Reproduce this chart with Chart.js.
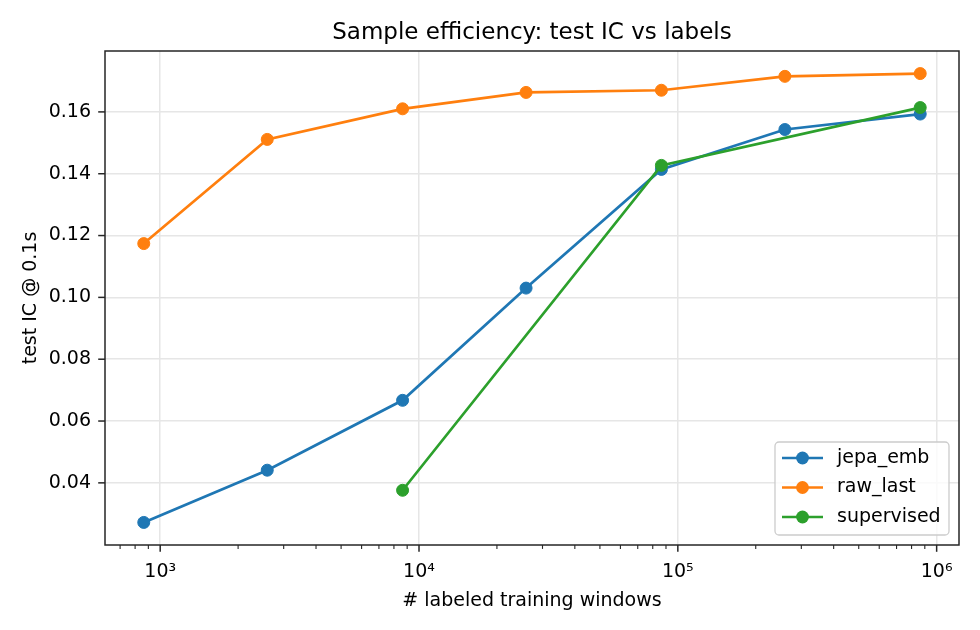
<!DOCTYPE html>
<html>
<head>
<meta charset="utf-8">
<script src="https://cdn.jsdelivr.net/npm/chart.js@4.4.1/dist/chart.umd.min.js"></script>
<style>
  html, body { margin: 0; padding: 0; background: #fff; }
  #wrap { width: 980px; height: 630px; }
</style>
</head>
<body>
<div id="wrap"><canvas id="chart" width="980" height="630"></canvas></div>
<script>
// data
const windows = [864, 2592, 8640, 25920, 86400, 259200, 864000];
const jepaEmb = [0.0272, 0.0441, 0.0667, 0.1030, 0.1414, 0.1543, 0.1593];
const rawLast = [0.1174, 0.1511, 0.1610, 0.1663, 0.1670, 0.1715, 0.1724];
const supervised = [null, null, 0.0376, null, 0.1427, null, 0.1614];

const seriesNames = ['jepa_emb', 'raw_last', 'supervised'];
const seriesColors = ['#1f77b4', '#ff7f0e', '#2ca02c'];

const titleText = 'Sample efficiency: test IC vs labels';
const xMajor = [1e3, 1e4, 1e5, 1e6];
const xMajorLabels = ['10³', '10⁴', '10⁵', '10⁶'];
const yTicks = [0.04, 0.06, 0.08, 0.10, 0.12, 0.14, 0.16];

const X_MIN = 612, X_MAX = 1.22e6;
const Y_MIN = 0.0199, Y_MAX = 0.1797;

const FONT = '"DejaVu Sans", sans-serif';

// minor log ticks 2..9 x 10^n inside the range
const xMinor = [];
for (let e = 2; e <= 6; e++) {
  for (let m = 2; m <= 9; m++) {
    const v = m * Math.pow(10, e);
    if (v >= X_MIN && v <= X_MAX) xMinor.push(v);
  }
}
const isMajor = v => xMajor.indexOf(v) !== -1;

const toPoints = vals => windows.map((x, i) => ({x: x, y: vals[i]})).filter(p => p.y !== null);

const mkSet = (idx, vals, order) => ({
  label: seriesNames[idx],
  data: toPoints(vals),
  borderColor: seriesColors[idx],
  backgroundColor: seriesColors[idx],
  borderWidth: 2.7,
  pointRadius: 6,
  pointBorderWidth: 1,
  pointBorderColor: seriesColors[idx],
  pointBackgroundColor: seriesColors[idx],
  tension: 0,
  order: order
});

const frame = {
  id: 'frame',
  afterDraw(chart) {
    const {ctx, chartArea: a, scales: {x, y}} = chart;
    ctx.save();
    // title centred over the axes
    ctx.font = '23px ' + FONT;
    ctx.fillStyle = '#000';
    ctx.textAlign = 'center';
    ctx.textBaseline = 'alphabetic';
    ctx.fillText(titleText, (a.left + a.right) / 2, 38.5);

    ctx.strokeStyle = '#262626';
    ctx.lineWidth = 1.5;
    ctx.strokeRect(a.left, a.top, a.right - a.left, a.bottom - a.top);
    x.ticks.forEach(t => {
      const px = x.getPixelForValue(t.value);
      const major = isMajor(t.value);
      ctx.lineWidth = major ? 1.5 : 1.1;
      ctx.beginPath();
      ctx.moveTo(px, a.bottom);
      ctx.lineTo(px, a.bottom + (major ? 6.8 : 3.9));
      ctx.stroke();
    });
    ctx.lineWidth = 1.5;
    y.ticks.forEach(t => {
      const py = y.getPixelForValue(t.value);
      ctx.beginPath();
      ctx.moveTo(a.left, py);
      ctx.lineTo(a.left - 6.8, py);
      ctx.stroke();
    });

    // legend, lower right
    const lx = 775, ly = 442, lw = 174, lh = 93;
    ctx.beginPath();
    ctx.roundRect(lx, ly, lw, lh, 4);
    ctx.fillStyle = 'rgba(255,255,255,0.8)';
    ctx.fill();
    ctx.strokeStyle = '#cccccc';
    ctx.lineWidth = 1.3;
    ctx.stroke();
    ctx.font = '19px ' + FONT;
    ctx.textBaseline = 'middle';
    ctx.textAlign = 'left';
    seriesNames.forEach((name, i) => {
      const ry = 458 + i * 29.5;
      ctx.strokeStyle = seriesColors[i];
      ctx.fillStyle = seriesColors[i];
      ctx.lineWidth = 2.7;
      ctx.beginPath();
      ctx.moveTo(782, ry);
      ctx.lineTo(823, ry);
      ctx.stroke();
      ctx.beginPath();
      ctx.arc(802.5, ry, 6.4, 0, Math.PI * 2);
      ctx.fill();
      ctx.fillStyle = '#000';
      ctx.fillText(name, 837, ry);
    });
    ctx.restore();
  }
};

new Chart(document.getElementById('chart'), {
  type: 'line',
  data: {
    datasets: [
      mkSet(0, jepaEmb, 2),
      mkSet(1, rawLast, 1),
      mkSet(2, supervised, 0)
    ]
  },
  options: {
    responsive: false,
    animation: false,
    layout: { padding: { left: 0, right: 21, top: 51, bottom: 0 } },
    plugins: {
      legend: { display: false },
      tooltip: { enabled: false },
      title: { display: false }
    },
    scales: {
      x: {
        type: 'logarithmic',
        min: X_MIN,
        max: X_MAX,
        afterBuildTicks: s => {
          s.ticks = xMajor.concat(xMinor).sort((a, b) => a - b).map(v => ({value: v, major: isMajor(v)}));
        },
        afterFit: s => { s.height = 85; },
        ticks: {
          autoSkip: false,
          maxRotation: 0,
          minRotation: 0,
          padding: 16,
          color: '#000',
          font: { family: FONT, size: 19 },
          callback: v => {
            const i = xMajor.indexOf(v);
            return i === -1 ? '' : xMajorLabels[i];
          }
        },
        grid: {
          drawTicks: false,
          lineWidth: 1.5,
          color: c => (c.tick && isMajor(c.tick.value)) ? '#e6e6e6' : 'rgba(0,0,0,0)'
        },
        border: { display: false },
        title: {
          display: true,
          text: '# labeled training windows',
          color: '#000',
          font: { family: FONT, size: 19 },
          padding: { top: 0, bottom: 18 }
        }
      },
      y: {
        min: Y_MIN,
        max: Y_MAX,
        afterBuildTicks: s => { s.ticks = yTicks.map(v => ({value: v})); },
        afterFit: s => { s.width = 105; },
        ticks: {
          padding: 14,
          color: '#000',
          font: { family: FONT, size: 19 },
          callback: v => v.toFixed(2)
        },
        grid: { drawTicks: false, lineWidth: 1.5, color: '#e6e6e6' },
        border: { display: false },
        title: {
          display: true,
          text: 'test IC @ 0.1s',
          color: '#000',
          font: { family: FONT, size: 19 },
          padding: { top: 20, bottom: 0 }
        }
      }
    }
  },
  plugins: [frame]
});
</script>
</body>
</html>
